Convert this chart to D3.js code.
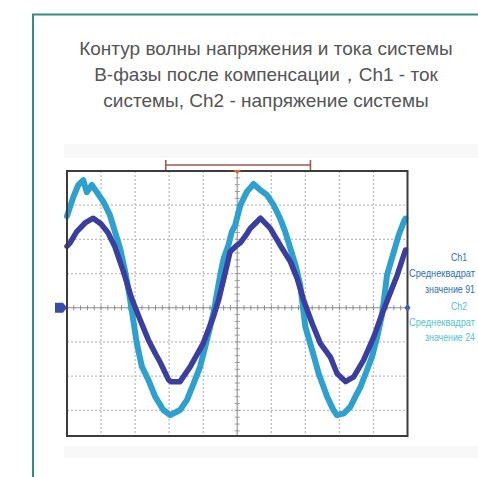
<!DOCTYPE html>
<html>
<head>
<meta charset="utf-8">
<script src="https://cdn.jsdelivr.net/npm/d3@7"></script>
<style>
  body { margin: 0; background: #fff; }
  svg { display: block; }
</style>
</head>
<body>
<div id="chart"></div>
<script>
// internal variables
var width = 478;
var height = 477;

// title lines
const titleLines = [
    "Контур волны напряжения и тока системы",
    "B-фазы после компенсации，Ch1 - ток",
    "системы, Ch2 - напряжение системы"
];

// side legend (the picture cuts these lines at its right edge)
const legendCh1 = ["Ch1", "Среднеквадрат", "значение 91"];
const legendCh2 = ["Ch2", "Среднеквадрат", "значение 24"];

// grid divisions (oscilloscope screen)
const xDivs = [0,1,2,3,4,5,6,7,8,9,10];
const yDivs = [-3,-2,-1,0,1,2,3];

// Ch1 - current [division, division]
const ch1 = [[0,1.8],[0.09,1.9],[0.28,2.22],[0.53,2.48],[0.77,2.62],[1.0,2.45],[1.2,2.2],[1.4,1.8],
    [1.66,1.05],[1.9,0.27],[2.15,-0.36],[2.39,-0.94],[2.59,-1.33],[2.74,-1.6],[2.98,-2.1],[3.05,-2.16],
    [3.32,-2.16],[3.62,-1.72],[4.0,-1.04],[4.3,-0.26],[4.45,0.22],[4.7,1.25],[4.79,1.64],[4.99,1.83],
    [5.09,1.9],[5.24,2.1],[5.38,2.32],[5.68,2.62],[5.97,2.32],[6.26,1.83],[6.56,1.35],[6.76,0.86],
    [6.95,0.22],[7.2,-0.46],[7.44,-1.04],[7.74,-1.45],[7.93,-1.92],[8.18,-2.16],[8.42,-2.02],
    [8.71,-1.53],[9.01,-0.85],[9.26,-0.16],[9.4,0.2],[9.7,0.96],[9.94,1.69]];

// Ch2 - voltage
const ch2 = [[0,2.68],[0.19,3.25],[0.33,3.59],[0.48,3.73],[0.58,3.38],[0.73,3.59],[0.87,3.39],
    [1.07,3.1],[1.26,2.71],[1.41,2.22],[1.56,1.74],[1.71,1.05],[1.85,0.27],[2.05,-1.04],[2.2,-1.72],
    [2.39,-2.11],[2.59,-2.6],[2.83,-2.99],[3.03,-3.14],[3.32,-2.99],[3.52,-2.7],[3.72,-2.21],
    [3.91,-1.72],[4.11,-0.94],[4.3,-0.16],[4.5,0.96],[4.6,1.44],[4.74,1.83],[4.84,2.22],[4.94,2.42],
    [5.09,3.0],[5.28,3.39],[5.48,3.62],[5.68,3.44],[5.87,3.3],[6.07,3.0],[6.26,2.61],[6.41,2.22],
    [6.56,1.74],[6.71,1.25],[6.85,0.66],[7.0,-0.56],[7.2,-1.24],[7.39,-1.92],[7.64,-2.6],[7.83,-3.0],
    [7.93,-3.14],[8.13,-3.09],[8.32,-2.9],[8.47,-2.6],[8.62,-2.31],[8.81,-1.82],[8.96,-1.43],
    [9.11,-0.85],[9.26,-0.16],[9.4,0.96],[9.6,1.64],[9.74,2.12],[9.89,2.51],[9.94,2.61]];

const svg = d3.select("#chart").append("svg")
    .attr("width", width)
    .attr("height", height);

// card border
svg.append("path")
    .attr("d", "M33,477 L33,14.5 L478,14.5")
    .attr("fill", "none")
    .attr("stroke", "#338c88")
    .attr("stroke-width", 2);

// title
svg.append("g").selectAll("text").data(titleLines).enter().append("text")
    .attr("x", 266)
    .attr("y", function(d,i) {return 55 + i*26})
    .attr("text-anchor", "middle")
    .style("font-family", "'Liberation Sans', Arial, sans-serif")
    .style("font-size", "19px")
    .style("fill", "#555")
    .text(function(d) {return d});

// scales
var xScale = d3.scaleLinear().domain([0,10]).range([67,407.5]);
var yScale = d3.scaleLinear().domain([-3.75,4]).range([436,171]);

// faint noise bands from the scope photo
svg.append("rect").attr("x", 64).attr("y", 144).attr("width", 414).attr("height", 14).attr("fill", "#f8f8f8");
svg.append("rect").attr("x", 64).attr("y", 446).attr("width", 414).attr("height", 12).attr("fill", "#f8f8f8");

const plot = svg.append("g");

// dotted grid
plot.append("g").selectAll("line").data(xDivs.filter(function(d) {return d>0 && d<10 && d!=5})).enter().append("line")
    .attr("x1", function(d) {return xScale(d)}).attr("x2", function(d) {return xScale(d)})
    .attr("y1", yScale(4)).attr("y2", yScale(-3.75))
    .attr("stroke", "#bdbdbd").attr("stroke-width", 1.3).attr("stroke-dasharray", "2,2");
plot.append("g").selectAll("line").data(yDivs.filter(function(d) {return d!=0})).enter().append("line")
    .attr("y1", function(d) {return yScale(d)}).attr("y2", function(d) {return yScale(d)})
    .attr("x1", xScale(0)).attr("x2", xScale(10))
    .attr("stroke", "#bdbdbd").attr("stroke-width", 1.3).attr("stroke-dasharray", "2,2");

// center axes with minor ticks
plot.append("line").attr("x1", xScale(0)).attr("x2", xScale(10)).attr("y1", yScale(0)).attr("y2", yScale(0))
    .attr("stroke", "#8a8a8a").attr("stroke-width", 1.2);
plot.append("line").attr("x1", xScale(5)).attr("x2", xScale(5)).attr("y1", yScale(4)).attr("y2", yScale(-3.75))
    .attr("stroke", "#9a9a9a").attr("stroke-width", 1.2);
plot.append("g").selectAll("line").data(d3.range(0, 10.01, 0.2)).enter().append("line")
    .attr("x1", function(d) {return xScale(d)}).attr("x2", function(d) {return xScale(d)})
    .attr("y1", yScale(0)-2.5).attr("y2", yScale(0)+2.5)
    .attr("stroke", "#8a8a8a").attr("stroke-width", 1);
plot.append("g").selectAll("line").data(d3.range(-3.6, 4.01, 0.2)).enter().append("line")
    .attr("y1", function(d) {return yScale(d)}).attr("y2", function(d) {return yScale(d)})
    .attr("x1", xScale(5)-2.5).attr("x2", xScale(5)+2.5)
    .attr("stroke", "#9a9a9a").attr("stroke-width", 1);

// waves
var line = d3.line()
    .x(function(d) {return xScale(d[0])})
    .y(function(d) {return yScale(d[1])});

plot.append("path").datum(ch2).attr("d", line)
    .attr("fill", "none").attr("stroke", "#2ea0d0").attr("stroke-width", 6)
    .attr("stroke-linejoin", "round").attr("stroke-linecap", "round");
plot.append("path").datum(ch1).attr("d", line)
    .attr("fill", "none").attr("stroke", "#3a3e9e").attr("stroke-width", 5.5)
    .attr("stroke-linejoin", "round").attr("stroke-linecap", "round");

// frame
plot.append("rect")
    .attr("x", xScale(0)).attr("y", yScale(4))
    .attr("width", xScale(10)-xScale(0)).attr("height", yScale(-3.75)-yScale(4))
    .attr("fill", "none").attr("stroke", "#3c3c3c").attr("stroke-width", 2);

// cursor bracket at top
var bx1 = xScale(2.9), bx2 = xScale(7.15), by = yScale(4) - 6;
svg.append("line").attr("x1", bx1).attr("x2", bx2).attr("y1", by).attr("y2", by)
    .attr("stroke", "#9c5a50").attr("stroke-width", 1.6);
svg.append("line").attr("x1", bx1).attr("x2", bx1).attr("y1", by-5).attr("y2", by+5)
    .attr("stroke", "#9c5a50").attr("stroke-width", 1.6);
svg.append("line").attr("x1", bx2).attr("x2", bx2).attr("y1", by-5).attr("y2", by+5)
    .attr("stroke", "#9c5a50").attr("stroke-width", 1.6);

// trigger marker (orange)
var tx = xScale(5), ty = yScale(4);
svg.append("path").attr("d", "M"+(tx-4)+","+(ty-1)+" L"+(tx+4)+","+(ty-1)+" L"+tx+","+(ty+3)+" Z")
    .attr("fill", "#e8622a");

// ground marker left (blue)
var gy = yScale(0), gx = xScale(0);
svg.append("path").attr("d", "M"+(gx-12)+","+(gy-5)+" L"+(gx-4)+","+(gy-5)+" L"+gx+","+gy+" L"+(gx-4)+","+(gy+5)+" L"+(gx-12)+","+(gy+5)+" Z")
    .attr("fill", "#3a4aa8");
// small diamond at right
var rx = xScale(10);
svg.append("path").attr("d", "M"+rx+","+(gy-4)+" L"+(rx+3)+","+gy+" L"+rx+","+(gy+4)+" L"+(rx-3)+","+gy+" Z")
    .attr("fill", "#4656b4");

// side legend, condensed and right-aligned to fit the edge
var legendFont = "'Liberation Sans', Arial, sans-serif";
var lx = [467, 475, 475];
var lw = [16, 66, 50];
svg.append("g").selectAll("text").data(legendCh1).enter().append("text")
    .attr("x", function(d,i) {return lx[i]})
    .attr("y", function(d,i) {return 261 + i*16})
    .attr("text-anchor", "end")
    .attr("textLength", function(d,i) {return lw[i]})
    .attr("lengthAdjust", "spacingAndGlyphs")
    .style("font-family", legendFont).style("font-size", "11.5px")
    .style("fill", "#1f6fc0")
    .text(function(d) {return d});
svg.append("g").selectAll("text").data(legendCh2).enter().append("text")
    .attr("x", function(d,i) {return lx[i]})
    .attr("y", function(d,i) {return 310 + i*15.5})
    .attr("text-anchor", "end")
    .attr("textLength", function(d,i) {return lw[i]})
    .attr("lengthAdjust", "spacingAndGlyphs")
    .style("font-family", legendFont).style("font-size", "11.5px")
    .style("fill", "#52c3cf")
    .text(function(d) {return d});
</script>
</body>
</html>
